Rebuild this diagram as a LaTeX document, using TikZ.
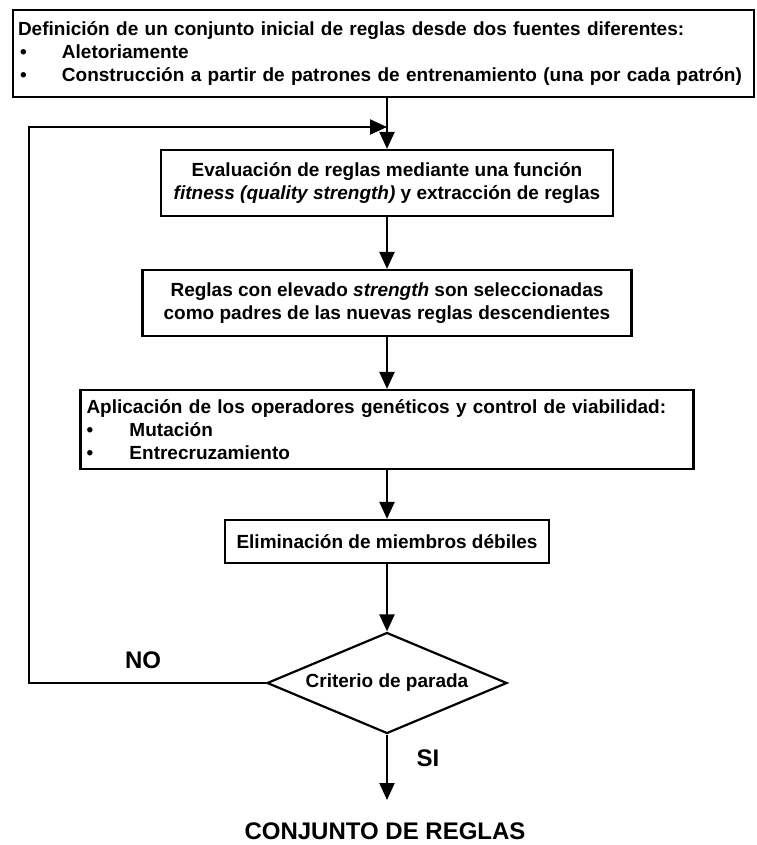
\documentclass[tikz,border=0pt]{standalone}
\usepackage{fontspec}
\setmainfont{Liberation Sans}
\usetikzlibrary{arrows.meta,shapes.geometric}
\newcommand\mybul{\makebox[44pt][l]{\hspace{2pt}•}}
\newcommand\mybulb{\makebox[43pt][l]{\hspace{0pt}•}}
\begin{document}
\begin{tikzpicture}[x=1pt,y=-1pt,
  box/.style={draw,line width=2.2pt,font=\fontsize{19}{23}\selectfont\bfseries,inner sep=0pt},
  conn/.style={line width=2.2pt,-{Triangle[length=17pt,width=15pt]}},
  lab/.style={font=\fontsize{24}{28}\selectfont\bfseries,inner sep=0pt}]
\useasboundingbox (0,0) rectangle (756,845);
\node[box,minimum width=741,minimum height=87,text width=731,align=left] (init) at (383.5,53.5)
 {Definición de un conjunto inicial de reglas desde dos fuentes diferentes:\\
  \mybul Aletoriamente\\
  \mybul Construcción a partir de patrones de entrenamiento (una por cada patrón)};
\node[box,minimum width=452,minimum height=66,align=center] (eval) at (387,183)
 {Evaluación de reglas mediante una función\\
  \textit{fitness (quality strength)} y extracción de reglas};
\node[box,minimum width=489,minimum height=66,align=center] (sel) at (387,303)
 {Reglas con elevado \textit{strength} son seleccionadas\\
  como padres de las nuevas reglas descendientes};
\node[box,minimum width=613,minimum height=79,text width=601,align=left] (gen) at (387,429.5)
 {Aplicación de los operadores genéticos y control de viabilidad:\\
  \mybulb Mutación\\
  \mybulb Entrecruzamiento};
\node[box,minimum width=324,minimum height=43,align=center] (elim) at (387,541.5)
 {Eliminación de miembros débiles};
\node[box,diamond,aspect=2.38,minimum width=240,minimum height=101] (crit) at (387,683)
 {Criterio de parada};
\node[lab] (res) at (385,831) {CONJUNTO DE REGLAS};
\node[lab] (no) at (143,660) {NO};
\node[lab] (si) at (428,758) {SI};
\coordinate (fbend) at (29,127);
\coordinate (endp) at (387,800);
\draw[conn] (init.south -| eval.north) -- (eval.north);
\draw[conn] (crit.west) -- (crit.west -| fbend) -- (fbend) -- (fbend -| eval.north);
\draw[conn] (eval.south) -- (sel.north);
\draw[conn] (sel.south) -- (gen.north);
\draw[conn] (gen.south) -- (elim.north);
\draw[conn] (elim.south) -- (crit.north);
\draw[conn] (crit.south) -- (endp);
\end{tikzpicture}
\end{document}
